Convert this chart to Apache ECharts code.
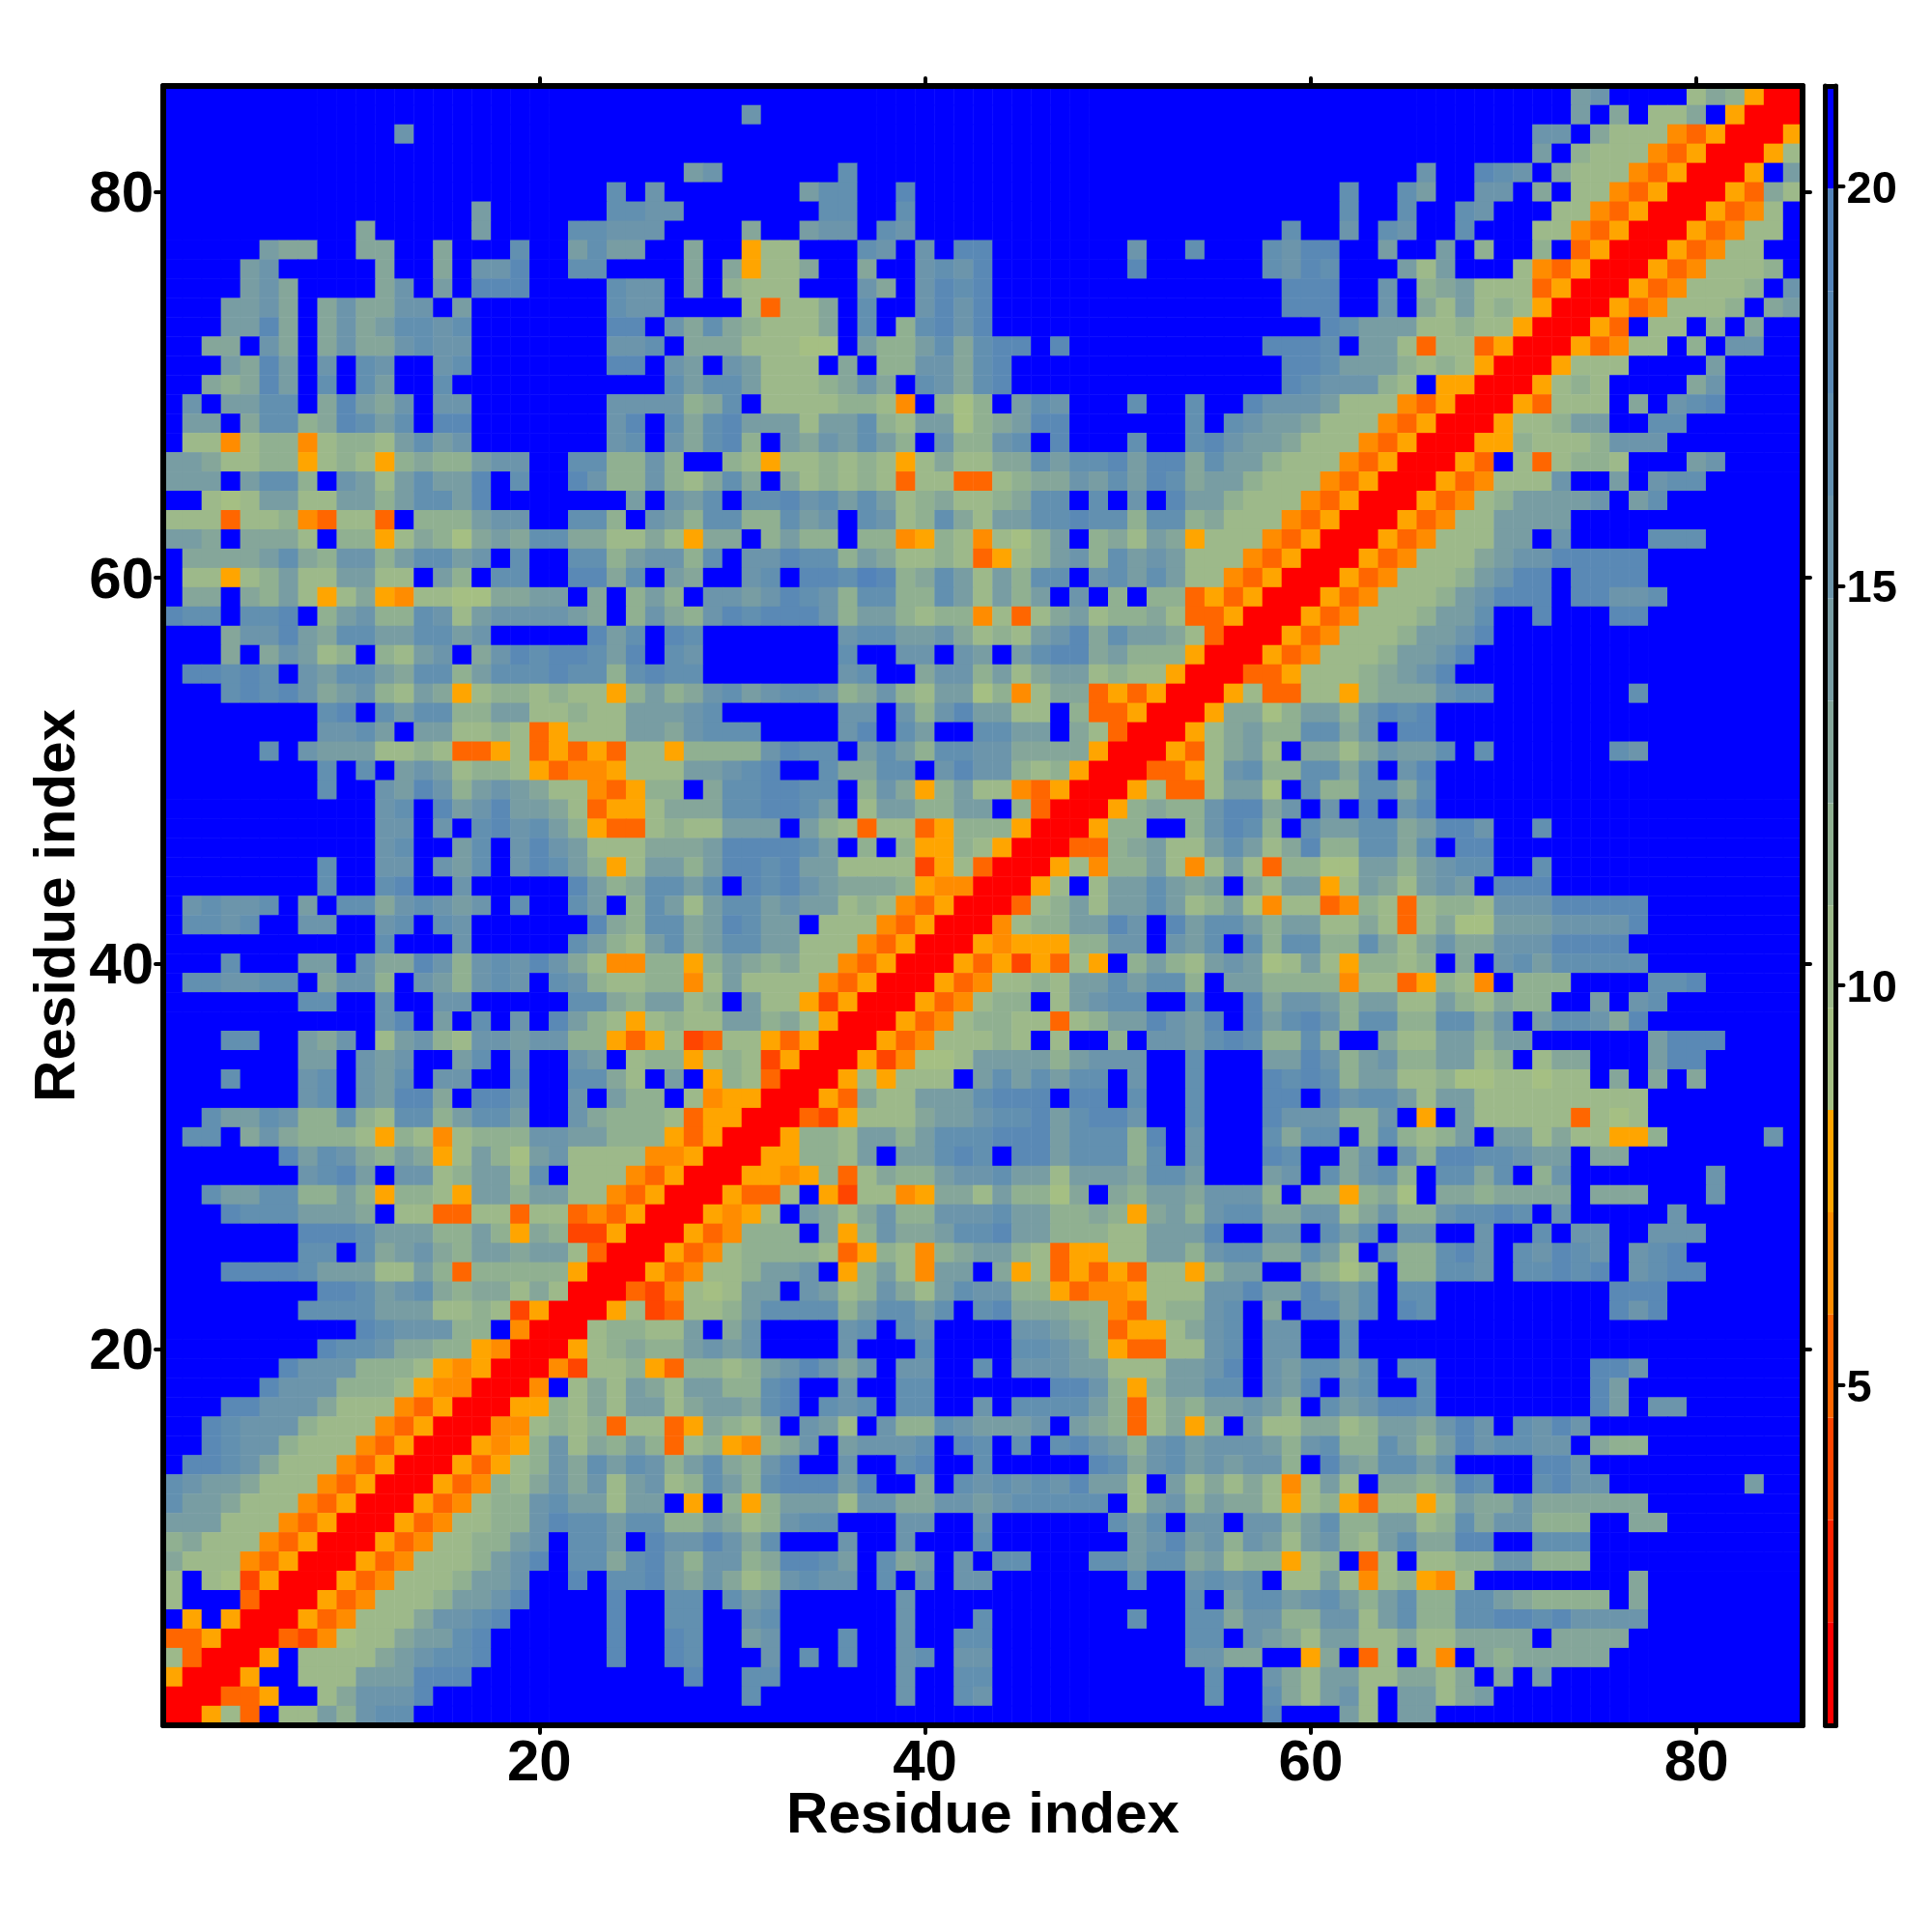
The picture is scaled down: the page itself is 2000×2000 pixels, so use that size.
<!DOCTYPE html>
<html>
<head>
<meta charset="utf-8">
<style>html,body{margin:0;padding:0;background:#fff}#c{width:2000px;height:2000px}</style>
<script src="https://cdn.jsdelivr.net/npm/echarts@6/dist/echarts.min.js"></script>
</head>
<body>
<div id="c"></div>
<script>
// One string per matrix row, top row (residue 85) first. Each character is a colour level (0 = closest, f = farthest).
// Groups: residues 1-28 | 29-57 | 58-85.  Blank groups are all "f".
const contactRows = [
"||ffffffffff ffffffabff ff798500",
"|ffbfffffff|ffffffffff ffffffaf9f 779f5000",
"ffffffffff ffbfffffff ffffffff||ffffffffff ffffbbf977 74350005",
"||ffffffffff ffffaf8777 43500057",
"ffffffffff ffffffffff fffffffa|bffffffcff|ffffffffbf fdcbf97774 350005fa",
"ffffffffff ffffffffff fffcfbff|fffffaccff dfffffffff|ffffcffcaf fbbf9f7743 50005397",
"ffffffffff ffffffafff fffccbbf|ffffffccff cfffffffff|ffffcffcff cbfff77435 0005347f",
"ffffffffff 9fffffafff fccbbbff|ff9ffabbfc bfffffffff|fcffbfcbff cfff774350 0053477f",
"fffffa99ff 99ff9fffcf facaaff9|ff577fffcb fbfddfffff ffbffcfff|cbddffaffa f8ff8f3500 053477ff",
"ffffabffff f9ff9fbbdf fccffff9|f95779ff9f fbcbdfffff ffdffffff|cbdcfffa7a fff7435000 5347778f",
"ffffab9fff f9bfafdddf fffcbbf9|f8777fffb9 fbdcdfffff|fdddffbf89 a777350005 347778fb",
"fffaab9f9b 99bbfaffff fffcbbff|ff73779fcf fbdbdfffff|fdddffbf97 a787500053 47778f9a",
"fffaad9f9b 9accbcffff fffddfb9|c987779fcf 8cdbdfffff|fffdcaaa77 877500053f 77f8f9ff",
"ff99fb9f9b 99bcbbffff fffbbcf9|9977766fa8 8ac9cddfdf|dddcfaa737 7350005347 7f8fbbff",
"fffa9dafbf cbffbcffff fffddfba|fba777f9f8 8bb9cdffff|fddcaaa878 750005777f fffaffff",
"ff989dafcf caffcfffff ffffffca|cca77789b9 fcb9cdffff|fdcbbb87f5 50005787ff ff9bffff",
"fbfaaccf9d a9bfbbffff fffbbbb8|9cf7777887 4f868facbf ffcffcffd|bbba777435 00053777f9 fbcdffff",
"faaf9cc89d cacfddffff fffbdfc9|cdaaa7aac8 7aa689addf fffffcfcb|aa97774350 005778aaff ccffffff",
"f774788478 87acabffff fffbcfb9|cd8fa9baca 8fb88bcfdf ffcffcdba|a977743500 05587778bb bfffffff",
"aa97788578 758988abbf fcc88b8f|f875778787 5797799cac cdadd9caa|8777435000 53f737887f ffabffff",
"aaafacc8fb a7acaadfcf fdb88b87|9c9f978787 377337899b acadc9aa8|7774350005 34777bffaf bccfffff",
"ff767aa77a a8accadfff ffffafba|cfccdbcaca 7897789ccf cfbfdaa87|7743500053 478aaaabfa cfffffff",
"7773778437 73f888abbf fcc8fba8|cc88cabfcb 78c97aaccd cc8cc8977|7435000534 77aaaaffff ffffffff",
"aa9f9997f8 8579869a9c c9977975|99f8a88f88 45874768af 897a95777|4350005347 77aafbffff cccfffff",
"f9999ac98b b8accabfcf fcc8abb8|cfbbdcc8a9 77873578ab 8caba7774|3500053477 79abbddddd ffffffff",
"f77578a77a a77fa8fccf fdd9cfa9|ffbcfddced 89ca7a8ccf bcaca7743|5000534777 8abddfdddd ffffffff",
"f99f98a757 954776699a af9f8a8f|bbabdcb8cc 88ca7a8afb f8f883535|0005347778 abdddfddbb cfffffff",
"dccfccdf8a b88cb7abbb ba9f8b98|bdcdddb8aa 878847379a 788973350|005347778a acffdfffdd ffffffff",
"fff9bbda9c caaccabfff ffdacfdc|fffffffbcc aab9787abd 9caa97300|05347778aa bdffffffff ffffffff",
"fff9f9ba78 f87abf9bdc ddcadfcb|fffffffcff bbfbafacdd 9a8885000|5347778aab dfffffffff ffffffff",
"fddcdcfbac ca9cc8accc dcc8cdcc|fffffffbcf f9bb8a79aa 787750003|3577789abd ffffffffff ffffffff",
"fffcdcdb9a b87a957887 87758a89|bcabccb89b 87aa684799 353500057|337758999b ccfffffffc ffffffff",
"ffffffffcd fcacc88aa7 7877aaab|cffffffbbf b8bdaa77f8 335000599|68aa8bdcdf ffffffffff ffffffff",
"ffffffffbb cafaa77873 5777aa9b|cccffffbdf caffccaaf9 73000579a|88cc9bfddf ffffffffff ffffffff",
"fffffcfbaa a778733573 53537758|888bdccfac a8ccbb9999 50005379a|7f9979baac fcffffffcb ffffffff",
"ffffffffcf cfaba78875 3445777a|abcdffc99c cfbdbb8785 0003357bc|88cc9cfbdf ffffffffff ffffffff",
"ffffffffcf fbadb8aba9 7743588f|9ccddccf8b 958a774350 0057337aa|6fc88cc9cf ffffffffff ffffffff",
"ffffffffff fbcfdabdaa 97355799|9ccddcaf7a a88aaf8300 058988bdd|9bfbfdfbdf ffffffffff ffffffff",
"ffffffffff fbbfbfcdbc a8533787|7aaafa8737 7358885000 588ff8bdc|8fcaacc9ad dbffcfffff ffffffff",
"ffffffffff fbcffacfbd ba777999|addddcaf8f 8558750003 389a77aca|79d88cc9cf ddffffffff ffffffff",
"ffffffffcf fbbfbacfbd ca857aa8|addcdaa777 7257300057 488a747a7|38866aa8ab ccffcfffff ffffffff",
"ffffffffcf fcdffbffff fda89cca|cfdcdba999 854400057f 7aaca9af9|7aa57a97ab afdddfffff ffffffff",
"fbcbbcfafc c9bcbabfcf fcaf8ca7|accabaa787 435000378a 7aaca78a6|4773487378 87bbbddddd ffffffff",
"fccbcffbbf fbcfcbffff ffd98cc9|adcaaf7774 350004788a adbfdacca|8aa7797379 66aaabbbbd ffffffff",
"ffffffffff fcfffbffff fca87ac9|accaa77743 5000545558 8bbfbacfc|8cc88c979b 99bbbddddf ffffffff",
"fffcfffaaf b99db8bcbd b9744885|8a98977435 0005352537 5f8a87aba|67a758878f 9fbcaccccc ffffffff",
"fccbbccf9b b8fba8bcbf cb877884|7a77774350 005347787a acacc8faa|8888477358 74f888ffff ccdfffff",
"fffffffccf fbffbbffff fcc98aa7|8fa7752500 0534788f7a bccffcffd|9bba8aa77a 87988ffafb cfffffff",
"ffffffffff fbdfafcfbf da875787|7aa8975000 5347887737 8aadbadfd|acdb8cc88c c9bfaccb9d ffffffff",
"fffccffa9b f7ab87bbab b8853572|3775350005 3477787f7f f8fbbacdc|88c8ff977a a8aaffffff adddffff",
"fffffffaaf babffacfbf fbaf7885|7872500052 4667aaaa8a bbbffcfff|aadb8ab88a a78f799fff addfffff",
"fffcfffbcf bacfbbffcf fcc97faf|5873000575 777facacac cfbffcfff|dcdc8aa778 6677677f9f 9f9fffff",
"fffffffbcf badd9fddbf fbfa88f7|4550005397 7aaacdddfd dfcffcfff|ddfdbcca7a a777777777 ffffffff",
"ffcaacb88c 87cc8accaf fb988873|5500032577 79aabccdac ddbffcfff|dbbb88bf5f a777773767 ffffffff",
"fccf9b9888 758747888b baa88853|50005887aa 8acccdddac cc8dfbfff|c9ccf8c878 afaa797755 8fffffbf",
"ffffffdacb 98a957a86a b7777445|00055887af aacdcfddac cc8cfbfff|dcff9bfb8d dccbaaf99f ffffffff",
"fffffffbcd afbb78aa7c f7774350|0055458379 88abbcaa7a aa9ccafff|abfc9bc8fc c9cf8bffff fffbffff",
"ffcaacc88a 858875aa8a a7743500|05337f5277 45997a8869 f98aa9bbb|8f885896f9 989999f999 fffbffff",
"fffdcccaaa 9f77337737 73435000|5457fa979b 88bbbcaa88 9859a8bcc|99bb79b88b ccdcfbffff fbffffff",
"fffffffddd caaa88a859 82250005|34888f958b 99accdaa88 877aaadff|bbfcacfbbf fbffcfbbff bbbfffff",
"fffffffccf c9ab98aa9a a7300053|4788887358 7489aa8735 577aa8bcc|99ca7fb88c dbfcbdcbfb cdffffff",
"fffddddcaa a77a838888 85000534|778aabf58a 74aaf95735 3537758aa|ff9868f88c cbfccdcdfb cddfffff",
"ffffffffdd cabc989979 70003247|67aafba78b 97acbb8853 445777bbd|aadbacfccf ffffffffdd dfffffff",
"fffffffccc caaa778725 00057237|78acccc8ac cacfcd9998 843788bcf|9fddacfdcf ffffffffdb dfffffff",
"ffffffffff dcbbb88f40 0078877a|f9bffffbcf cbffffbba9 835579bcf|bbffcfffff ffffffffff ffffffff",
"ffffffffdc cb99885400 0578988a|babffffbff fcffffccba 853377bcf|bbffcfffff ffffffffff ffffffff",
"ffffffdbbb 8887545000 42778538|878abdb9bf bbffcfbbba a777aabdf|baccacfccf fffffffddb ffffffff",
"fffffdbbb8 8875440004 f797a97a|a88cdffbff ccffffffdd b858aaccf|badfbcffcf fffffffdaf ffffffff",
"fffddbbb97 7743500055 8797aa79|aa9cdfcbcf ccffbfcccc a83798aab|a8fcabddcf fffffffdaf bbffffff",
"ffdcbbb877 7435000447 87837735|9879fba7fb 88cbaaabfa 9837958fa|779978aa9b dbfcbdbfff ffffffff",
"ffdcbb8777 4350005458 b798a837|85489bfabb bcfdcfcfcd ba8bcabbb|a8bc88ca8a dbccbbf988 ffffffff",
"fddcb97774 3500053578 b9cacb8a|c98bdffbff cdffcfffff dc9bcabab|b8fda9ccac ffffddbfff ffffffff",
"cbaa977743 5000534879 b9b7ab78|ca8cdddadf f9fcbcbcbd aa7fa7979|747a7f9989 dcffcdbbff fffffaff",
"caa9777435 000534788b caa7aaf5|f858aaa7bb 99bbabcccc cf7ab8a99|7578537757 a99b999999 ffffffff",
"aaa7774350 005347788b dccacc88|a978bccfff bbffbfffff fcacfbbfb|b8ac88aa78 c9bb888ff9 9fffffff",
"8977743500 05347788ab fccafdbb|db9cfffbff bfffcfffff ffabdab8b|a7ab87ac99 ddffcccfff ffffffff",
"9777435000 5347778abd fcc9cda8|bb89ddcafc 9afbfccfff ccacc9a78|8578f37f77 88bb888fff ffffffff",
"7f76250005 347778aabf fdfccda9|b978bcbbfc fbfbbfffff ffcffbcbc|f77a747854 7ffffffff9 ffffffff",
"7fff300053 47778aabdf fffdffcc|fcabffffff bfffffffff fffffcfac|cabca8ac88 cca98888f9 ffffffff",
"f5f5000534 7779bbcdff fffdffcc|ffbcffffff bfffcfffff ffcffcc9b|b88bb7ac88 ccddcdbbbb ffffffff",
"3350003246 779aacdfff fffdffdc|ffabfffcff bffccfffff fffffccfb|a97aa77977 9999f9999f ffffffff",
"730005f777 79abccdfff fffdffdc|fffbfcfcff bcfbbfffff fffffbb99|ff59f37f74 f9899999ff ffffffff",
"50005ff777 aaadddffff fffffffd|ffccffffff bffccfffff ffffffcff|b97aa77997 9f9fafffff ffffffff",
"000335ff79 bbbdffffff ffffffff|ffcfffffff bffcbfffff ffffffcff|c97ab7faa7 9affffffff ffffffff",
"00573f77a8 bccfffffff ffffffff||dfffa7faaf ffffffffff ffffffff"
];
const segmentSizes = [28, 29, 28];
const levelBreaks = [0.74,2.03,3.31,4.59,5.88,7.16,8.44,9.72,11.0,12.28,13.56,14.84,16.13,17.41,18.69,19.97,21.255];
const levelColors = ["#FF0000","#FF2200","#FF4500","#FF6600","#FF8C00","#FFA500","#A5BF83","#9DB98A","#90B091","#85A69A","#789DA3","#6C95AB","#6290B0","#5A89B5","#5383BA","#0000FF"];
const residueLabels = ["20","40","60","80"];
const barTicks = [5,10,15,20];
const axisTitle = "Residue index";

const residues = Array.from({length:85},(_,i)=>String(i+1));
const mid = k => (levelBreaks[k]+levelBreaks[k+1])/2;
const cells = [];
contactRows.forEach((row,r)=>{
  const segs = row.replace(/ /g,'').split('|');
  let full = '';
  segmentSizes.forEach((n,s)=>{
    const t = segs[s]||'';
    full += (t+'f'.repeat(n)).slice(0,n);
  });
  for (let c=0;c<85;c++) cells.push([c,84-r,mid(parseInt(full[c],16))]);
});
const black = '#000';
const lineSt = {color:black,width:5,cap:'round'};
const mainLineSt = {color:black,width:6,cap:'round'};
const tickSt = {show:true,length:8,lineStyle:{color:black,width:4,cap:'round'}};
const isTick = (i,v)=>residueLabels.includes(v);
const font = 'Liberation Sans';
function catAxis(extra){
  return Object.assign({type:'category',data:residues,gridIndex:0,z:10,
    axisLine:{show:true,onZero:false,lineStyle:mainLineSt},
    splitLine:{show:false},splitArea:{show:false},
    axisTick:Object.assign({alignWithLabel:true,interval:isTick},tickSt)},extra);
}
const labelOn = (m,extra) => Object.assign({show:true,interval:isTick,margin:m,color:black,fontFamily:font,fontWeight:'bold',fontSize:60},extra);
const noLabel = {show:false};
const nameSt = {color:black,fontFamily:font,fontWeight:'bold',fontSize:60};
const barCat = p => ({type:'category',data:[''],gridIndex:1,position:p,z:10,
  axisLine:{show:true,onZero:false,lineStyle:lineSt},axisTick:{show:false},axisLabel:{show:false},splitLine:{show:false}});
const barVal = (p,labels)=>({type:'value',gridIndex:1,position:p,min:levelBreaks[0],max:levelBreaks[16],z:10,
  axisLine:{show:true,onZero:false,lineStyle:lineSt},splitLine:{show:false},
  axisTick:labels?{show:true,length:8,customValues:barTicks,lineStyle:{color:black,width:4,cap:'round'}}:{show:false},
  axisLabel:labels?{show:true,customValues:barTicks,margin:11,verticalAlign:'top',lineHeight:8,color:black,fontFamily:font,fontWeight:'bold',fontSize:47}:{show:false}});
const barData = levelColors.map((_,k)=>[levelBreaks[k],levelBreaks[k+1],k]);

const chart = echarts.init(document.getElementById('c'),null,{renderer:'canvas'});
chart.setOption({
  animation:false,
  backgroundColor:'#fff',
  grid:[
    {left:169,top:89,width:1697,height:1697,containLabel:false,outerBoundsMode:'none'},
    {left:1889.5,top:89,width:11,height:1697,containLabel:false,outerBoundsMode:'none'}
  ],
  visualMap:{type:'piecewise',show:false,seriesIndex:0,dimension:2,
    pieces:levelColors.map((c,k)=>({gte:levelBreaks[k],lt:levelBreaks[k+1],color:c}))},
  xAxis:[
    catAxis({position:'bottom',axisLabel:labelOn(10),name:axisTitle,nameLocation:'center',nameGap:64,nameMoveOverlap:false,nameTextStyle:nameSt}),
    catAxis({position:'top',axisLabel:noLabel}),
    barCat('bottom'),barCat('top')
  ],
  yAxis:[
    catAxis({position:'left',axisLabel:labelOn(10,{verticalAlign:'top',lineHeight:8}),name:axisTitle,nameLocation:'center',nameGap:79,nameMoveOverlap:false,nameTextStyle:nameSt}),
    catAxis({position:'right',axisLabel:noLabel}),
    barVal('right',true),barVal('left',false)
  ],
  series:[
    {type:'heatmap',xAxisIndex:0,yAxisIndex:0,data:cells,itemStyle:{borderWidth:0},emphasis:{disabled:true},progressive:0},
    {type:'custom',xAxisIndex:2,yAxisIndex:2,data:barData,silent:true,encode:{y:[0,1]},clip:true,
      renderItem:(p,api)=>{
        const a=api.coord([0,api.value(0)]),b=api.coord([0,api.value(1)]),cs=p.coordSys;
        return {type:'rect',shape:{x:cs.x,y:b[1],width:cs.width,height:a[1]-b[1]},
          style:{fill:levelColors[api.value(2)]}};
      }}
  ]
});
</script>
</body>
</html>
